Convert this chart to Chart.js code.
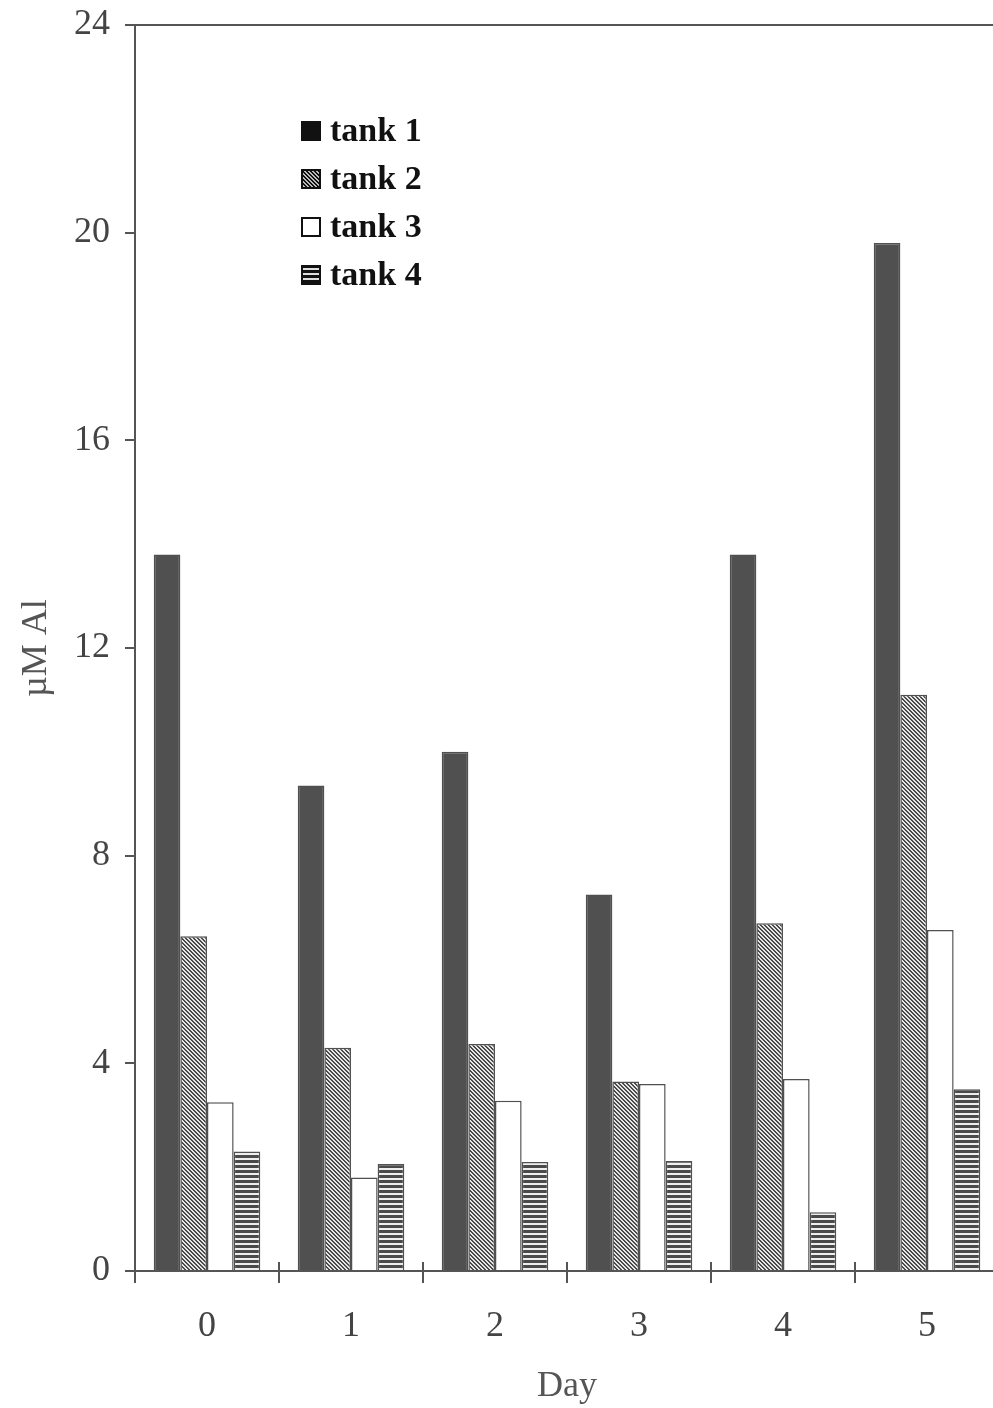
<!DOCTYPE html>
<html>
<head>
<meta charset="utf-8">
<script src="https://cdn.jsdelivr.net/npm/chart.js@4/dist/chart.umd.min.js"></script>
<style>
  html, body { margin: 0; padding: 0; background: #fff; overflow: hidden; }
  #wrap { width: 1010px; height: 1408px; }
</style>
</head>
<body>
<div id="wrap"><canvas id="c" width="1010" height="1408"></canvas></div>
<script>
// Aluminium concentration per tank over the days of the trial
const days = ['0', '1', '2', '3', '4', '5'];
const tank1 = [13.8, 9.35, 10.0, 7.25, 13.8, 19.8];
const tank2 = [6.45, 4.3, 4.37, 3.65, 6.7, 11.1];
const tank3 = [3.25, 1.8, 3.28, 3.6, 3.7, 6.57];
const tank4 = [2.3, 2.06, 2.1, 2.12, 1.13, 3.5];
const yTicks = [0, 4, 8, 12, 16, 20, 24];

const INK = '#505050';
const AXIS = '#555';
const SERIF = "'Liberation Serif', 'Times New Roman', serif";

// Small repeating tiles used as bar fills
function diagonalFill(dark, light) {
  const c = document.createElement('canvas');
  c.width = 4; c.height = 4;
  const g = c.getContext('2d');
  g.fillStyle = light; g.fillRect(0, 0, 4, 4);
  g.fillStyle = dark;
  for (let i = 0; i < 4; i++) {
    g.fillRect(i, i, 1, 1);
    g.fillRect(i, (i + 1) % 4, 1, 1);
  }
  return g.createPattern(c, 'repeat');
}
function stripeFill(dark, light) {
  const c = document.createElement('canvas');
  c.width = 4; c.height = 5;
  const g = c.getContext('2d');
  g.fillStyle = light; g.fillRect(0, 0, 4, 5);
  g.fillStyle = dark; g.fillRect(0, 0, 4, 3);
  return g.createPattern(c, 'repeat');
}

const datasets = [
  { label: 'tank 1', data: tank1, backgroundColor: INK, borderColor: INK,
    legendFill: '#111' },
  { label: 'tank 2', data: tank2, backgroundColor: diagonalFill('#4a4a4a', '#e6e6e6'), borderColor: INK,
    legendFill: diagonalFill('#111', '#bbb') },
  { label: 'tank 3', data: tank3, backgroundColor: '#ffffff', borderColor: INK,
    legendFill: '#ffffff' },
  { label: 'tank 4', data: tank4, backgroundColor: stripeFill('#4a4a4a', '#eeeeee'), borderColor: INK,
    legendFill: stripeFill('#111', '#ddd') }
].map(d => Object.assign({ borderWidth: 1.5, borderSkipped: 'bottom',
  categoryPercentage: 0.74, barPercentage: 1.0 }, d));

// Key drawn inside the plot area, upper left
const tankLegend = {
  id: 'tankLegend',
  afterDatasetsDraw(chart) {
    const { ctx, chartArea } = chart;
    ctx.save();
    ctx.font = "bold 34px " + SERIF;
    ctx.textBaseline = 'middle';
    ctx.textAlign = 'left';
    chart.data.datasets.forEach((ds, i) => {
      const x = chartArea.left + 166;
      const y = chartArea.top + 96 + i * 48;
      ctx.fillStyle = ds.legendFill;
      ctx.fillRect(x, y, 20, 20);
      ctx.strokeStyle = '#111';
      ctx.lineWidth = 2;
      ctx.strokeRect(x + 1, y + 1, 18, 18);
      ctx.fillStyle = '#111';
      ctx.fillText(ds.label, x + 29, y + 11);
    });
    ctx.restore();
  }
};

// Category boundary ticks also poke a little above the day axis
const crossTicks = {
  id: 'crossTicks',
  afterDraw(chart) {
    const xs = chart.scales.x;
    const { ctx, chartArea } = chart;
    ctx.save();
    ctx.strokeStyle = AXIS;
    ctx.lineWidth = 2;
    for (let i = 1; i < days.length; i++) {
      const px = (xs.getPixelForValue(i - 1) + xs.getPixelForValue(i)) / 2;
      ctx.beginPath();
      ctx.moveTo(px, chartArea.bottom - 9);
      ctx.lineTo(px, chartArea.bottom);
      ctx.stroke();
    }
    ctx.restore();
  }
};

new Chart(document.getElementById('c'), {
  type: 'bar',
  data: { labels: days, datasets },
  options: {
    responsive: false,
    animation: false,
    devicePixelRatio: 1,
    layout: { padding: { top: 25, right: 11, left: 0, bottom: 0 } },
    plugins: { legend: { display: false }, tooltip: { enabled: false } },
    scales: {
      x: {
        afterFit(s) { s.height = 137; s.paddingLeft = 0; s.paddingRight = 0; },
        grid: { drawOnChartArea: false, color: AXIS, tickColor: AXIS, tickLength: 12, lineWidth: 2 },
        border: { color: AXIS, width: 2 },
        ticks: { color: '#444', padding: 22, font: { family: SERIF, size: 36 } },
        title: { display: true, text: 'Day', color: '#555', padding: { top: 0, bottom: 0 },
          font: { family: SERIF, size: 36 } }
      },
      y: {
        min: 0, max: 24,
        afterFit(s) { s.width = 135; s.paddingTop = 0; s.paddingBottom = 0; },
        afterBuildTicks(s) { s.ticks = yTicks.map(v => ({ value: v })); },
        grid: {
          color: c => (c.tick && c.tick.value === 24 ? AXIS : 'rgba(0,0,0,0)'),
          tickColor: AXIS, tickLength: 10, lineWidth: 2
        },
        border: { color: AXIS, width: 2 },
        ticks: { color: '#444', padding: 15, font: { family: SERIF, size: 36 } },
        title: { display: true, text: 'µM Al', color: '#555', padding: { top: 15, bottom: 0 },
          font: { family: SERIF, size: 36 } }
      }
    }
  },
  plugins: [tankLegend, crossTicks]
});
</script>
</body>
</html>
